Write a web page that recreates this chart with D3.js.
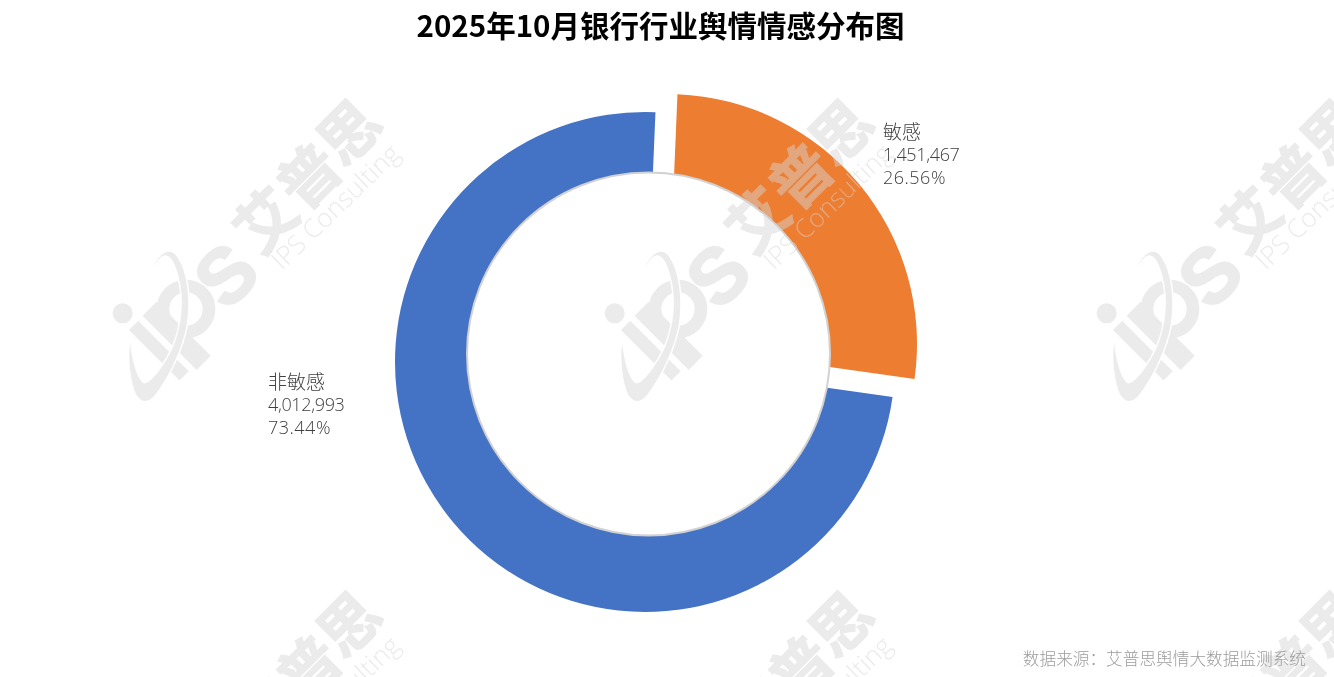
<!DOCTYPE html>
<html><head><meta charset="utf-8">
<script src="https://cdn.jsdelivr.net/npm/d3@7"></script>
<style>html,body{margin:0;padding:0;background:#fff;overflow:hidden}svg{display:block}</style>
</head><body><svg id="c" width="1334" height="677"></svg>
<script>
const titleText = "2025年10月银行行业舆情情感分布图";
const sourceText = "数据来源\uFF1A艾普思舆情大数据监测系统";
const categories = ["敏感", "非敏感"];
const values = [1451467, 4012993];
const colors = ["#ED7D31", "#4472C4"];
const centers = [[667, 344], [645, 362]];
const labelPos = [[883, 132], [268, 382]];
const tileCols = [0, 492, 984];
const tileRows = [0, 492];

const svg = d3.select("#c");
const cjk = "'Noto Sans CJK SC'";
const total = d3.sum(values);
const startA = 2.4 * Math.PI / 180;
const pie = d3.pie().sort(null).startAngle(startA).endAngle(startA + 2 * Math.PI)(values);
const arc = d3.arc().innerRadius(150).outerRadius(250);

svg.selectAll("path.slice").data(pie).join("path").attr("class", "slice")
  .attr("d", arc).attr("fill", (d, i) => colors[i])
  .attr("transform", (d, i) => `translate(${centers[i]})`);
svg.append("circle").attr("cx", 648.5).attr("cy", 354).attr("r", 181.5)
  .attr("fill", "#fff").attr("stroke", "#d2d2d2").attr("stroke-width", 2);

// watermark tiles
const wmFill = "#d5d5d5";
const wm = svg.append("g").attr("class", "watermark").attr("opacity", 0.48);
function tile(dx, dy) {
  const g = wm.append("g").attr("transform", `translate(${dx},${dy})`);
  [["艾", 263, 217], ["普", 306, 173], ["思", 346, 129]].forEach(([t, x, y]) => {
    g.append("text").text(t).attr("transform", `translate(${x},${y}) rotate(-45)`)
      .attr("text-anchor", "middle").attr("dominant-baseline", "central")
      .attr("font-family", cjk).attr("font-weight", 700).attr("font-size", 60)
      .attr("fill", wmFill).attr("stroke", wmFill).attr("stroke-width", 1.2);
  });
  g.append("text").text("IPS Consulting").attr("transform", "translate(282,271) rotate(-44)")
    .attr("font-family", "'Open Sans'").attr("font-weight", 300).attr("font-size", 26).attr("fill", wmFill);
  const logo = g.append("g").attr("transform", "translate(105,235) scale(0.3333)");
  logo.append("circle").attr("cx", 53).attr("cy", 235).attr("r", 30).attr("fill", wmFill);
  logo.append("path").attr("d", "M99.5,257.5L72,285L223.5,436.5L251,409Z").attr("fill", wmFill);
  logo.append("path").attr("d", "M112.5,242.5L155,200L317.5,362.5L275,405Z").attr("fill", wmFill);
  logo.append("circle").attr("cx", 243).attr("cy", 222).attr("r", 69)
    .attr("fill", "none").attr("stroke", wmFill).attr("stroke-width", 38);
  logo.append("path")
    .attr("d", "M145,95C160,60 190,35 212,60C245,100 258,190 245,270C232,340 190,430 150,480C125,510 100,500 88,465C75,425 70,370 75,325C82,380 95,430 115,445C135,450 180,390 205,335C232,270 238,190 222,130C212,85 195,55 175,62C165,65 155,78 145,95Z")
    .attr("fill", wmFill).attr("stroke", "#fff").attr("stroke-width", 9).style("paint-order", "stroke");
  g.append("text").text("S").attr("transform", "translate(226,275) rotate(-45)")
    .attr("text-anchor", "middle").attr("dominant-baseline", "central")
    .attr("font-family", "'Liberation Sans'").attr("font-weight", 700).attr("font-size", 78)
    .attr("fill", wmFill).attr("stroke", wmFill).attr("stroke-width", 2);
}
tileRows.forEach(dy => tileCols.forEach(dx => tile(dx, dy)));

svg.append("text").text(titleText).attr("x", 660.5).attr("y", 37)
  .attr("text-anchor", "middle").attr("font-family", cjk).attr("font-weight", 700)
  .attr("font-size", 29.5).attr("fill", "#000");

const spacing = [0, -0.35, 0.5];
categories.forEach((c, i) => {
  const [x, y] = labelPos[i];
  const lines = [c, d3.format(",")(values[i]), d3.format(".2%")(values[i] / total)];
  lines.forEach((t, k) => {
    svg.append("text").text(t).attr("x", x).attr("y", y + k * 22.5 + 6.5)
      .attr("font-family", "'Open Sans'," + cjk).attr("font-weight", 300)
      .attr("letter-spacing", spacing[k])
      .attr("font-size", k === 0 ? 19 : 18).attr("fill", "#404040");
  });
});

svg.append("text").text(sourceText).attr("x", 1306).attr("y", 665)
  .attr("text-anchor", "end").attr("font-family", cjk).attr("font-weight", 300)
  .attr("font-size", 16.67).attr("fill", "#9c9c9c");
</script></body></html>
